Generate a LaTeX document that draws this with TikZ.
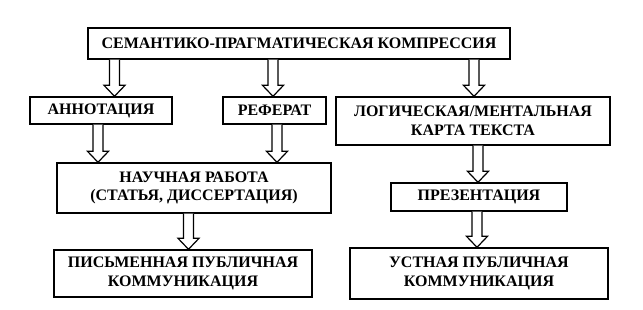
\documentclass[tikz,border=0pt]{standalone}
\usepackage{fontspec}
\setmainfont{Liberation Serif}
\usetikzlibrary{calc}

\tikzset{
  stage/.style={draw,line width=1.4pt,align=center,inner sep=0pt,
    font=\bfseries\fontsize{16}{18.5}\selectfont},
  hollowarr/.style={draw,line width=1.2pt,fill=white,line join=miter}
}
% hollow block arrow from #2.south to #3.north at x = #1
\newcommand\hollowarrow[3]{%
  \path[hollowarr] let \p1=(#2.south), \p2=(#3.north) in
    (#1pt-5pt,\y1) -- (#1pt-5pt,\y2+11pt) -- (#1pt-10.5pt,\y2+11pt) --
    (#1pt,\y2) -- (#1pt+10.5pt,\y2+11pt) -- (#1pt+5pt,\y2+11pt) --
    (#1pt+5pt,\y1);}

\begin{document}
\begin{tikzpicture}[x=1pt,y=-1pt]
  \useasboundingbox (0,0) rectangle (643,309);
  \node[stage,minimum width=422pt,minimum height=31pt] (comp) at (299,43.5) {СЕМАНТИКО-ПРАГМАТИЧЕСКАЯ КОМПРЕССИЯ};
  \node[stage,minimum width=142pt,minimum height=27pt] (annot) at (101,110.5) {АННОТАЦИЯ};
  \node[stage,minimum width=103pt,minimum height=27pt] (refer) at (274.5,110.5) {РЕФЕРАТ};
  \node[stage,minimum width=274pt,minimum height=48pt] (lmap) at (473,121) {ЛОГИЧЕСКАЯ/МЕНТАЛЬНАЯ\\КАРТА ТЕКСТА};
  \node[stage,minimum width=274pt,minimum height=50pt] (sci) at (194,188) {НАУЧНАЯ РАБОТА\\(СТАТЬЯ, ДИССЕРТАЦИЯ)};
  \node[stage,minimum width=176pt,minimum height=28pt] (pres) at (479,197) {ПРЕЗЕНТАЦИЯ};
  \node[stage,minimum width=258pt,minimum height=47pt] (written) at (183,273.5) {ПИСЬМЕННАЯ ПУБЛИЧНАЯ\\КОММУНИКАЦИЯ};
  \node[stage,minimum width=258pt,minimum height=51pt] (oral) at (479,273.5) {УСТНАЯ ПУБЛИЧНАЯ\\КОММУНИКАЦИЯ};

  \hollowarrow{114.5}{comp}{annot}
  \hollowarrow{273}{comp}{refer}
  \hollowarrow{474}{comp}{lmap}
  \hollowarrow{98}{annot}{sci}
  \hollowarrow{277}{refer}{sci}
  \hollowarrow{478}{lmap}{pres}
  \hollowarrow{188.5}{sci}{written}
  \hollowarrow{477}{pres}{oral}
\end{tikzpicture}
\end{document}
